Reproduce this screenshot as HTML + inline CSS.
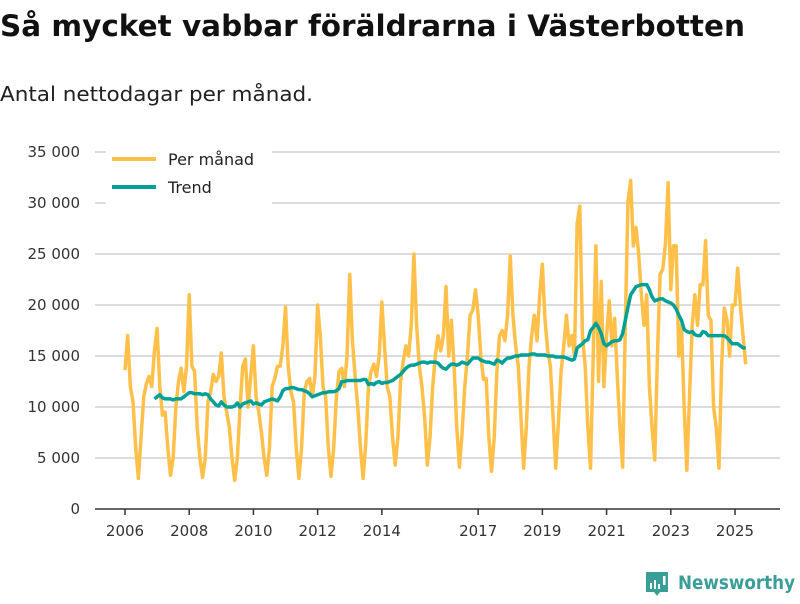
<!DOCTYPE html>
<html><head><meta charset="utf-8"><style>
body{margin:0;background:#fff;width:800px;height:600px;overflow:hidden;font-family:"DejaVu Sans","Liberation Sans",sans-serif}
</style></head><body>
<svg id="chart" width="800" height="600" xmlns="http://www.w3.org/2000/svg" font-family="DejaVu Sans, Liberation Sans, sans-serif">
<text x="0" y="36" font-size="29" font-weight="bold" fill="#111" textLength="745" lengthAdjust="spacingAndGlyphs">Så mycket vabbar föräldrarna i Västerbotten</text>
<text x="0" y="101" font-size="20" fill="#222" textLength="313" lengthAdjust="spacingAndGlyphs">Antal nettodagar per månad.</text>
<g id="grid"></g><g id="yticks"></g><g id="xticks"></g><g id="series"></g>
<g>
<rect x="106" y="145" width="166" height="60" fill="#fff"/>
<line x1="112" y1="159" x2="156" y2="159" stroke="#ffc04a" stroke-width="4"/>
<text x="168" y="165" font-size="16" fill="#222">Per månad</text>
<line x1="112" y1="187" x2="156" y2="187" stroke="#00a099" stroke-width="4"/>
<text x="168" y="193" font-size="16" fill="#222">Trend</text>
</g>
<g>
<path d="M646 572 h22 v20 h-8 l-3 4 l-3 -4 h-8 z" fill="#3a9e98"/>
<rect x="650" y="583" width="2" height="6" fill="#fff"/><rect x="654" y="580" width="2" height="9" fill="#fff"/><rect x="658" y="584" width="2" height="5" fill="#fff"/><rect x="663" y="576" width="2.5" height="9" fill="#fff"/>
<text x="678" y="589" font-size="19" font-weight="bold" fill="#3a9e98" textLength="117" lengthAdjust="spacingAndGlyphs">Newsworthy</text>
</g>
</svg>
<script>
const yTicks=[0,5000,10000,15000,20000,25000,30000,35000];
const yTickLabels=["0","5 000","10 000","15 000","20 000","25 000","30 000","35 000"];
const xTickYears=[2006,2008,2010,2012,2014,2017,2019,2021,2023,2025];
const startYear=2006;
const perMonth=[
13.6,17.0,12.0,10.5,6.0,3.0,7.0,11.0,12.3,13.0,12.0,15.5,
17.7,12.0,9.2,9.5,6.0,3.3,5.0,10.0,12.5,13.8,11.5,14.0,
21.0,14.0,13.5,8.0,5.0,3.1,5.0,10.5,11.5,13.2,12.5,13.0,
15.3,11.0,9.5,8.0,5.0,2.8,5.0,10.0,14.0,14.7,10.0,13.0,
16.0,11.0,9.5,7.5,5.0,3.3,6.0,12.0,12.8,14.0,14.0,16.0,
19.8,14.0,11.5,10.5,6.0,3.0,6.0,11.5,12.5,12.8,11.0,13.0,
20.0,17.0,12.0,11.0,6.0,3.2,6.0,11.0,13.5,13.8,12.0,15.0,
23.0,16.5,13.0,10.0,6.0,3.0,6.5,12.0,13.5,14.2,13.0,15.0,
20.3,16.0,12.0,11.0,7.0,4.3,7.0,12.5,14.5,16.0,15.0,18.0,
25.0,18.0,14.0,12.0,9.0,4.3,7.0,12.0,15.0,17.0,15.5,17.0,
21.8,15.0,18.5,14.0,8.0,4.1,7.5,12.0,15.0,19.0,19.5,21.5,
19.0,15.0,12.7,12.8,7.0,3.7,7.0,13.5,17.0,17.5,16.5,19.0,
24.8,19.0,16.0,14.0,9.0,4.0,8.0,14.0,17.0,19.0,16.5,21.0,
24.0,18.5,15.5,14.0,9.0,4.0,8.5,13.5,16.0,19.0,16.0,17.0,
15.0,28.0,29.7,17.0,14.0,8.0,4.0,15.0,25.8,12.5,22.3,12.0,
17.0,20.4,16.0,18.7,13.0,8.0,4.1,18.0,30.2,32.2,25.8,27.6,
25.0,21.0,18.0,21.0,12.0,8.0,4.8,15.0,23.0,23.5,26.0,32.0,
21.5,25.8,25.8,15.0,18.0,10.0,3.8,11.0,18.0,21.0,18.0,22.0,
22.0,26.3,19.0,18.5,10.0,8.0,4.0,14.0,19.7,18.5,15.0,20.0,
20.0,23.6,20.0,17.0,14.2];
const trendStart=11;
const trend=[
10.8,
11.0,11.2,10.9,10.8,10.8,10.8,10.7,10.8,10.8,10.8,11.0,11.2,
11.4,11.4,11.3,11.3,11.3,11.2,11.3,11.2,10.8,10.5,10.2,10.1,
10.5,10.2,10.0,10.0,10.0,10.1,10.4,10.0,10.3,10.4,10.5,10.6,
10.3,10.4,10.3,10.2,10.5,10.6,10.7,10.8,10.7,10.6,11.0,11.6,
11.8,11.8,11.9,11.9,11.8,11.7,11.7,11.6,11.5,11.3,11.0,11.1,
11.2,11.3,11.4,11.4,11.5,11.5,11.5,11.6,11.8,12.5,12.5,12.6,
12.6,12.6,12.6,12.6,12.6,12.7,12.7,12.2,12.3,12.2,12.4,12.5,
12.3,12.4,12.4,12.5,12.6,12.8,13.0,13.2,13.5,13.8,14.0,14.1,
14.1,14.2,14.3,14.4,14.4,14.3,14.4,14.4,14.4,14.3,14.0,13.8,
13.7,14.0,14.2,14.2,14.1,14.2,14.4,14.3,14.2,14.5,14.8,14.8,
14.8,14.6,14.5,14.4,14.4,14.3,14.2,14.6,14.5,14.3,14.6,14.8,
14.8,14.9,15.0,15.0,15.1,15.1,15.1,15.1,15.2,15.2,15.1,15.1,
15.1,15.1,15.0,15.0,15.0,14.9,14.9,14.9,14.9,14.8,14.7,14.6,
14.7,15.8,16.0,16.2,16.5,16.6,17.5,17.8,18.2,17.8,17.2,16.2,
16.0,16.2,16.4,16.5,16.5,16.6,17.2,18.5,19.8,21.0,21.4,21.8,
21.9,22.0,22.0,22.0,21.5,20.8,20.4,20.5,20.6,20.6,20.4,20.3,
20.2,20.0,19.6,19.0,18.5,17.6,17.4,17.3,17.4,17.1,17.0,17.0,
17.4,17.3,17.0,17.0,17.0,17.0,17.0,17.0,17.0,16.8,16.5,16.2,
16.2,16.2,16.0,15.8,15.8];
const NS="http://www.w3.org/2000/svg";
const x=i=>125+i*(610/228);
const y=v=>509-v*(357/35000);
function mk(t,a,p){const e=document.createElementNS(NS,t);for(const k in a)e.setAttribute(k,a[k]);p.appendChild(e);return e;}
const grid=document.getElementById('grid'),yt=document.getElementById('yticks'),xt=document.getElementById('xticks'),ser=document.getElementById('series');
yTicks.forEach((v,i)=>{
 if(v>0){const l=mk('line',{x1:95,x2:780,y1:y(v),y2:y(v),stroke:'#dcdcdc','stroke-width':2},grid);
 
 }
 const t=mk('text',{x:80,y:y(v)+5,'font-size':15,fill:'#333','text-anchor':'end'},yt);t.textContent=yTickLabels[i];
 
 
});
const ax=mk('line',{x1:95,x2:780,y1:509,y2:509,stroke:'#333','stroke-width':1.5},xt);


xTickYears.forEach(yr=>{const xx=x((yr-startYear)*12);
 mk('line',{x1:xx,x2:xx,y1:509,y2:515,stroke:'#333','stroke-width':1.5},xt);
 const t=mk('text',{x:xx,y:536,'font-size':15,fill:'#333','text-anchor':'middle'},xt);t.textContent=yr;
 
 
});
const p1=mk('polyline',{points:perMonth.map((v,i)=>x(i)+','+y(v*1000)).join(' '),fill:'none',stroke:'#ffc04a','stroke-width':3.5,'stroke-linejoin':'round'},ser);


const p2=mk('polyline',{points:trend.map((v,i)=>x(i+trendStart)+','+y(v*1000)).join(' '),fill:'none',stroke:'#00a099','stroke-width':3.5,'stroke-linejoin':'round'},ser);


</script>
</body></html>
